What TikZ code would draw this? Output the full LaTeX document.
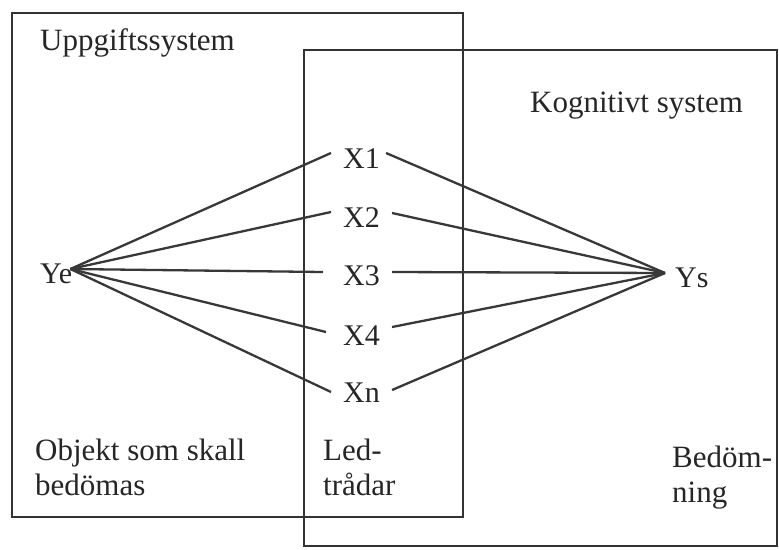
\documentclass[tikz,border=0pt]{standalone}
\usepackage{fontspec}
\setmainfont{Liberation Serif}
\begin{document}
\begin{tikzpicture}[x=1pt,y=-1pt,
  frame/.style={draw=black!80, line width=2.6pt},
  link/.style={draw=black!78, line width=2.3pt},
  lab/.style={font=\fontsize{31}{35}\selectfont, text=black!85, inner sep=0pt, anchor=base west, align=left},
  xlab/.style={lab, font=\fontsize{30}{35}\selectfont, inner xsep=12pt, inner ysep=0pt, text height=20pt, text depth=0pt}
]
\useasboundingbox (0,0) rectangle (779,549);
% frames
\draw[frame] (12,13) rectangle (463,517);
\draw[frame] (304,50) rectangle (777,546);
% titles and captions (base = last line)
\node[lab] (uppg) at (40,50) {Uppgiftssystem};
\node[lab] (kogn) at (530,112) {Kognitivt system};
\node[lab] (objekt) at (35,495) {Objekt som skall\\bedömas};
\node[lab] (led) at (323,495) {Led-\\trådar};
\node[lab] (bedom) at (672,502) {Bedöm-\\ning};
% variables
\node[xlab, inner xsep=0pt] (Ye) at (40,283) {Ye};
\node[xlab, inner xsep=0pt] (Ys) at (675,287) {Ys};
\node[xlab] (X1) at (331,168) {X1};
\node[xlab] (X2) at (331,227) {X2};
\node[xlab] (X3) at (331,285) {X3};
\node[xlab] (X4) at (331,345) {X4};
\node[xlab] (Xn) at (331,402) {Xn};
% connectors
\draw[link] ([xshift=-2pt,yshift=4pt]Ye.east) -- ([yshift=5pt]X1.west);
\draw[link] ([xshift=-2pt,yshift=4pt]Ye.east) -- ([yshift=5pt]X2.west);
\draw[link] ([xshift=-2pt,yshift=4pt]Ye.east) -- ([xshift=-8pt,yshift=3pt]X3.west);
\draw[link] ([xshift=-2pt,yshift=4pt]Ye.east) -- ([xshift=-5pt,yshift=3pt]X4.west);
\draw[link] ([xshift=-2pt,yshift=4pt]Ye.east) -- ([yshift=0pt]Xn.west);
\draw[link] ([xshift=-6pt,yshift=5pt]X1.east) -- ([xshift=-10pt,yshift=4pt]Ys.west);
\draw[link] ([yshift=4pt]X2.east) -- ([xshift=-10pt,yshift=4pt]Ys.west);
\draw[link] ([yshift=3pt]X3.east) -- ([xshift=-10pt,yshift=4pt]Ys.west);
\draw[link] ([yshift=8pt]X4.east) -- ([xshift=-10pt,yshift=4pt]Ys.west);
\draw[link] ([yshift=2pt]Xn.east) -- ([xshift=-10pt,yshift=4pt]Ys.west);
\end{tikzpicture}
\end{document}
